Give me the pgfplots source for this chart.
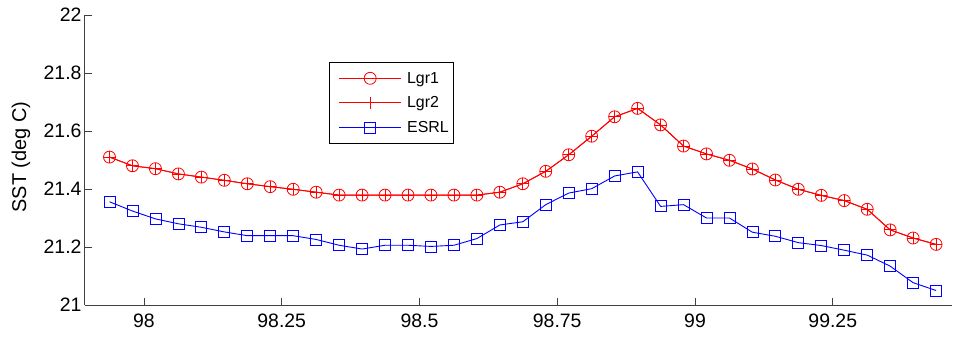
\documentclass[border=0pt]{standalone}
\usepackage{fontspec}
\setmainfont{Liberation Sans}
\usepackage{pgfplots}
\pgfplotsset{compat=1.18}
\definecolor{axgray}{RGB}{64,64,64}
\begin{document}
\begin{tikzpicture}
\useasboundingbox (-85bp,-35bp) rectangle (868bp,305bp);
\begin{axis}[
  at={(0,0)}, anchor=south west,
  width=867bp, height=290bp, scale only axis,
  xmin=97.893, xmax=99.4664, ymin=21, ymax=22,
  axis x line*=bottom, axis y line*=left,
  axis line style={axgray, line width=1bp, -},
  every tick/.style={axgray, line width=0.8bp},
  major tick length=7bp,
  tick align=inside,
  xtick={98,98.25,98.5,98.75,99,99.25},
  xticklabels={98,98.25,98.5,98.75,99,99.25},
  ytick={21,21.2,21.4,21.6,21.8,22},
  yticklabels={21,21.2,21.4,21.6,21.8,22},
  /pgf/number format/assume math mode=true,
  tick label style={font=\fontsize{19.5}{22}\selectfont, black},
  xticklabel style={yshift=-5bp},
  ylabel={SST (deg C)},
  every axis y label/.style={at={(axis description cs:-0.0738,0.51)}, rotate=90, anchor=center, font=\fontsize{20}{24}\selectfont},
  clip=false,
  legend style={at={(axis description cs:0.2818,0.839)}, anchor=north west,
    draw=black, line width=0.8bp, font=\fontsize{16}{19}\selectfont,
    inner xsep=3bp, inner ysep=8bp, row sep=8bp, column sep=3.5bp,
    nodes={inner sep=2bp},
    cells={anchor=west}},
  legend image code/.code={\path (0bp,0bp); \draw[mark repeat=2,mark phase=2] plot coordinates {(6bp,0bp) (37bp,0bp) (68bp,0bp)};},
]
\addplot[red, line width=0.9bp, mark=o, mark size=6bp, mark options={solid, line width=0.8bp}] coordinates {
(97.9375,21.51) (97.979167,21.48) (98.020833,21.47) (98.0625,21.452) (98.104167,21.441)
(98.145833,21.43) (98.1875,21.418) (98.229167,21.408) (98.270833,21.399) (98.3125,21.389)
(98.354167,21.379) (98.395833,21.379) (98.4375,21.379) (98.479167,21.379) (98.520833,21.379)
(98.5625,21.379) (98.604167,21.379) (98.645833,21.389) (98.6875,21.418) (98.729167,21.461)
(98.770833,21.518) (98.8125,21.582) (98.854167,21.649) (98.895833,21.678) (98.9375,21.621)
(98.979167,21.548) (99.020833,21.521) (99.0625,21.499) (99.104167,21.469) (99.145833,21.431)
(99.1875,21.399) (99.229167,21.378) (99.270833,21.36) (99.3125,21.33) (99.354167,21.259)
(99.395833,21.231) (99.4375,21.209)};
\addlegendentry{Lgr1}
\addplot[red, line width=0.9bp, mark=+, mark size=6bp, mark options={solid, line width=0.8bp}] coordinates {
(97.9375,21.51) (97.979167,21.48) (98.020833,21.47) (98.0625,21.452) (98.104167,21.441)
(98.145833,21.43) (98.1875,21.418) (98.229167,21.408) (98.270833,21.399) (98.3125,21.389)
(98.354167,21.379) (98.395833,21.379) (98.4375,21.379) (98.479167,21.379) (98.520833,21.379)
(98.5625,21.379) (98.604167,21.379) (98.645833,21.389) (98.6875,21.418) (98.729167,21.461)
(98.770833,21.518) (98.8125,21.582) (98.854167,21.649) (98.895833,21.678) (98.9375,21.621)
(98.979167,21.548) (99.020833,21.521) (99.0625,21.499) (99.104167,21.469) (99.145833,21.431)
(99.1875,21.399) (99.229167,21.378) (99.270833,21.36) (99.3125,21.33) (99.354167,21.259)
(99.395833,21.231) (99.4375,21.209)};
\addlegendentry{Lgr2}
\addplot[blue, line width=0.9bp, mark=square, mark size=5.5bp, mark options={solid, line width=0.8bp}] coordinates {
(97.9375,21.356) (97.979167,21.324) (98.020833,21.297) (98.0625,21.28) (98.104167,21.268)
(98.145833,21.252) (98.1875,21.239) (98.229167,21.239) (98.270833,21.239) (98.3125,21.226)
(98.354167,21.206) (98.395833,21.193) (98.4375,21.206) (98.479167,21.206) (98.520833,21.202)
(98.5625,21.206) (98.604167,21.229) (98.645833,21.276) (98.6875,21.287) (98.729167,21.346)
(98.770833,21.386) (98.8125,21.401) (98.854167,21.445) (98.895833,21.459) (98.9375,21.34)
(98.979167,21.346) (99.020833,21.3) (99.0625,21.3) (99.104167,21.251) (99.145833,21.237)
(99.1875,21.215) (99.229167,21.205) (99.270833,21.189) (99.3125,21.172) (99.354167,21.134)
(99.395833,21.077) (99.4375,21.05)};
\addlegendentry{ESRL}
\end{axis}
\end{tikzpicture}
\end{document}
